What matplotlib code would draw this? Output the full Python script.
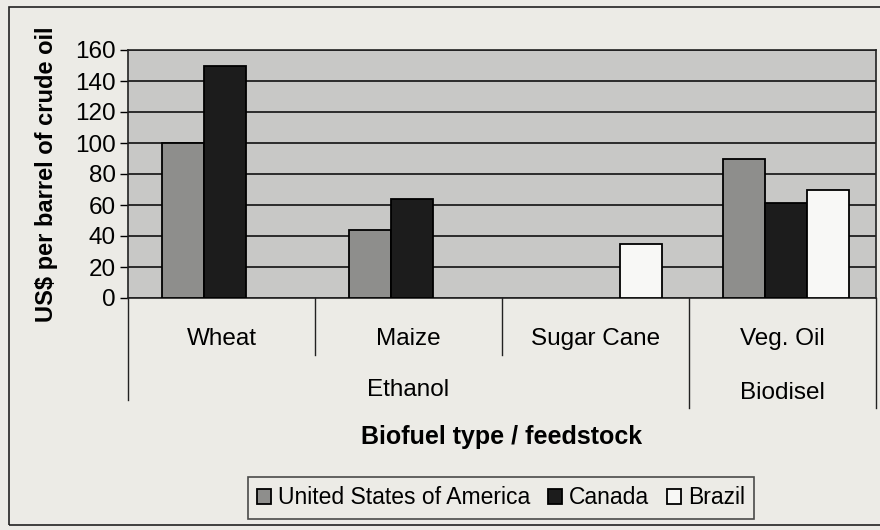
import numpy as np
import matplotlib.pyplot as plt
from matplotlib.patches import Rectangle, Patch

plt.rcParams['font.family'] = ['Liberation Sans', 'DejaVu Sans']

# data
feedstocks = ["Wheat", "Maize", "Sugar Cane", "Veg. Oil"]
fuel_types = ["Ethanol", "Biodisel"]
countries = ["United States of America", "Canada", "Brazil"]
usa = [100, 44, 0, 90]
canada = [150, 64, 0, 61]
brazil = [0, 0, 35, 70]
yticks = [0, 20, 40, 60, 80, 100, 120, 140, 160]

fig = plt.figure(figsize=(8.8, 5.3), dpi=100)
fig.patch.set_facecolor('#ecebe6')

# outer frame of the chart
fig.patches.append(Rectangle((9/880, 5/530), 1.0, 518/530, transform=fig.transFigure,
                             fill=False, edgecolor='#222222', lw=1.2))

ax = fig.add_axes([128/880, 1-298/530, 748/880, 248/530])
ax.set_facecolor('#c8c8c6')

x = np.arange(len(feedstocks))
w = 0.225
colors = ['#8e8e8c', '#1c1c1c', '#f8f8f6']
for i, (vals, c) in enumerate(zip([usa, canada, brazil], colors)):
    vals = np.array(vals, dtype=float)
    vals[vals == 0] = np.nan
    ax.bar(x + (i-1)*w + 0.02, vals, w, color=c, edgecolor='black', lw=1.3, zorder=3)

ax.set_xlim(-0.5, 3.5)
ax.set_ylim(0, 160)
ax.set_yticks(yticks)
ax.tick_params(axis='y', labelsize=17.5, length=6, width=1, direction='out', pad=3)
ax.set_xticks([])
ax.yaxis.grid(True, color='#111111', lw=1.2)
ax.set_axisbelow(True)
for s in ax.spines.values():
    s.set_color('#222222')
    s.set_linewidth(1.2)

ax.set_ylabel("US$ per barrel of crude oil", fontsize=17, fontweight='bold', labelpad=12)

# category dividers below the axis
trans = ax.get_xaxis_transform()
for xd, yd in zip([-0.5, 0.5, 1.5, 2.5, 3.5], [-0.41, -0.23, -0.23, -0.445, -0.445]):
    ax.plot([xd, xd], [0, yd], color='#222222', lw=1, transform=trans, clip_on=False)

for xi, name in zip(x, feedstocks):
    ax.text(xi, -0.165, name, transform=trans, ha='center', va='center', fontsize=17.5)
ax.text(1.0, -0.37, fuel_types[0], transform=trans, ha='center', va='center', fontsize=17.5)
ax.text(3.0, -0.385, fuel_types[1], transform=trans, ha='center', va='center', fontsize=17.5)

ax.text(1.5, -0.56, "Biofuel type / feedstock", transform=trans, ha='center', va='center',
        fontsize=18, fontweight='bold')

handles = [Patch(facecolor=c, edgecolor='black', lw=1.3) for c in colors]
leg = fig.legend(handles, countries, loc='center', bbox_to_anchor=(501/880, 1-498/530),
                 ncol=3, fontsize=16.5, frameon=True, fancybox=False, edgecolor='#222222',
                 handlelength=0.6, handleheight=0.6, handletextpad=0.3, columnspacing=0.8,
                 borderpad=0.4)
leg.get_frame().set_facecolor('#ecebe6')
leg.get_frame().set_linewidth(1.2)

plt.savefig('out.png', dpi=100, facecolor=fig.get_facecolor())
